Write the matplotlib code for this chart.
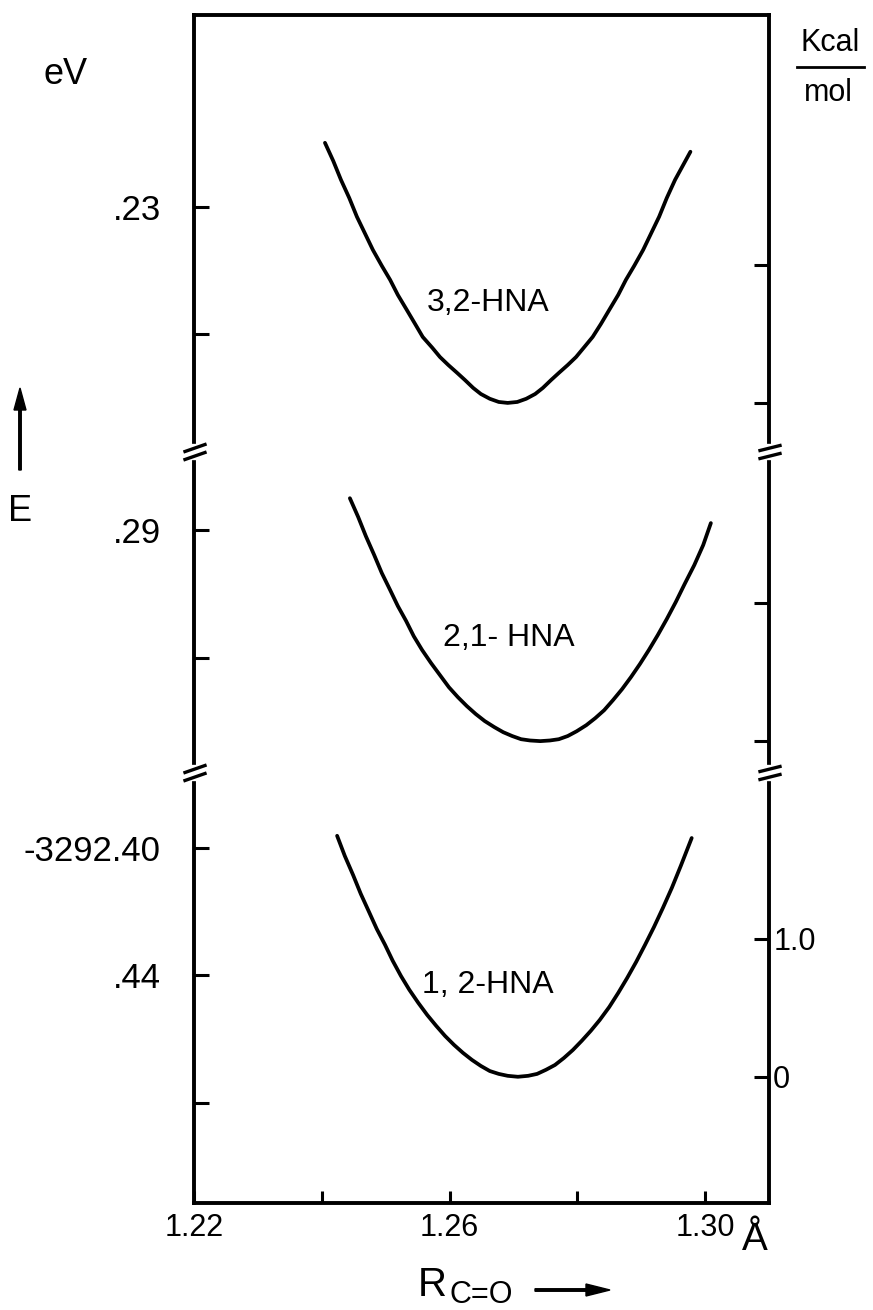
import matplotlib
matplotlib.use('Agg')
import matplotlib.pyplot as plt
from matplotlib.lines import Line2D
from matplotlib.patches import FancyArrow

plt.rcParams['font.family'] = ['Liberation Sans', 'DejaVu Sans']

W, H = 873, 1310
EV_PER_KCAL = 0.043364

# C=O bond length (Angstrom) and total energy (eV)
r_32 = [1.2405, 1.2418, 1.2430, 1.2443, 1.2455, 1.2468, 1.2480, 1.2494, 1.2507, 1.2519,
        1.2533, 1.2546, 1.2558, 1.2573, 1.2585, 1.2598, 1.2612, 1.2624, 1.2637, 1.2649,
        1.2663, 1.2677, 1.2691, 1.2706, 1.2720, 1.2734, 1.2746, 1.2759, 1.2771, 1.2785,
        1.2798, 1.2810, 1.2824, 1.2837, 1.2850, 1.2864, 1.2876, 1.2889, 1.2903, 1.2915,
        1.2928, 1.2940, 1.2953, 1.2977]
e_32 = [-3292.2099, -3292.2156, -3292.2215, -3292.2272, -3292.2331, -3292.2385, -3292.2435,
        -3292.2485, -3292.2529, -3292.2576, -3292.2623, -3292.2667, -3292.2708, -3292.2742,
        -3292.2771, -3292.2796, -3292.2821, -3292.2843, -3292.2868, -3292.2887, -3292.2902,
        -3292.2912, -3292.2915, -3292.2912, -3292.2902, -3292.2887, -3292.2868, -3292.2843,
        -3292.2821, -3292.2796, -3292.2771, -3292.2742, -3292.2708, -3292.2667, -3292.2623,
        -3292.2576, -3292.2529, -3292.2485, -3292.2435, -3292.2385, -3292.2331, -3292.2272,
        -3292.2215, -3292.2127]

r_21 = [1.2444, 1.2457, 1.2469, 1.2482, 1.2494, 1.2507, 1.2519, 1.2532, 1.2544, 1.2557,
        1.2571, 1.2585, 1.2599, 1.2613, 1.2627, 1.2641, 1.2655, 1.2670, 1.2684, 1.2698,
        1.2712, 1.2726, 1.2742, 1.2757, 1.2771, 1.2785, 1.2799, 1.2814, 1.2828, 1.2842,
        1.2856, 1.2870, 1.2884, 1.2898, 1.2912, 1.2926, 1.2940, 1.2954, 1.2968, 1.2983,
        1.2997, 1.3009]
e_21 = [-3292.2800, -3292.2859, -3292.2919, -3292.2978, -3292.3035, -3292.3088, -3292.3138,
        -3292.3185, -3292.3233, -3292.3276, -3292.3317, -3292.3355, -3292.3393, -3292.3424,
        -3292.3452, -3292.3477, -3292.3499, -3292.3518, -3292.3534, -3292.3546, -3292.3556,
        -3292.3560, -3292.3562, -3292.3560, -3292.3556, -3292.3546, -3292.3531, -3292.3512,
        -3292.3490, -3292.3465, -3292.3433, -3292.3399, -3292.3361, -3292.3320, -3292.3276,
        -3292.3229, -3292.3179, -3292.3126, -3292.3069, -3292.3010, -3292.2947, -3292.2878]

r_12 = [1.2424, 1.2436, 1.2449, 1.2461, 1.2474, 1.2486, 1.2499, 1.2511, 1.2524, 1.2537,
        1.2551, 1.2565, 1.2579, 1.2593, 1.2607, 1.2621, 1.2635, 1.2649, 1.2663, 1.2677,
        1.2691, 1.2707, 1.2723, 1.2737, 1.2751, 1.2765, 1.2779, 1.2793, 1.2807, 1.2821,
        1.2835, 1.2850, 1.2864, 1.2878, 1.2892, 1.2906, 1.2920, 1.2934, 1.2948, 1.2962,
        1.2979]
e_12 = [-3292.3962, -3292.4025, -3292.4085, -3292.4144, -3292.4201, -3292.4254, -3292.4304,
        -3292.4354, -3292.4402, -3292.4445, -3292.4486, -3292.4524, -3292.4558, -3292.4590,
        -3292.4618, -3292.4643, -3292.4665, -3292.4684, -3292.4700, -3292.4709, -3292.4715,
        -3292.4718, -3292.4715, -3292.4709, -3292.4696, -3292.4681, -3292.4659, -3292.4634,
        -3292.4605, -3292.4574, -3292.4540, -3292.4499, -3292.4455, -3292.4408, -3292.4358,
        -3292.4304, -3292.4248, -3292.4188, -3292.4125, -3292.4056, -3292.3969]

names = ['3,2-HNA', '2,1- HNA', '1, 2-HNA']

# left (eV) ticks of each panel
ev_ticks = [[-3292.23, -3292.27], [-3292.29, -3292.33], [-3292.40, -3292.44, -3292.48]]
ev_labels = [['.23', ''], ['.29', ''], ['-3292.40', '.44', '']]
# right (kcal/mol, relative to curve minimum) ticks
kc_ticks = [0, 1]
kc_labels = [['', ''], ['', ''], ['0', '1.0']]

x_ticks = [1.22, 1.24, 1.26, 1.28, 1.30]
x_labels = ['1.22', '', '1.26', '', '1.30']

# panel layout in pixels (top, bottom) and energy window of each panel
rows = [(15, 452), (452, 773), (773, 1203)]
ylims = [(-3292.3069, -3292.1698), (-3292.3662, -3292.2655), (-3292.5114, -3292.3765)]
label_pos = [(1.2660, -3292.2600), (1.2692, -3292.3240), (1.2660, -3292.4430)]

curves = [(r_32, e_32), (r_21, e_21), (r_12, e_12)]

fig = plt.figure(figsize=(W / 100, H / 100), dpi=100)
left_px, right_px = 194, 769
lw_sp = 2.8

for i, (t, b) in enumerate(rows):
    ax = fig.add_axes([left_px / W, 1 - b / H, (right_px - left_px) / W, (b - t) / H])
    r, e = curves[i]
    ax.plot(r, e, color='black', lw=2.7, solid_capstyle='round', solid_joinstyle='round')
    ax.set_xlim(1.22, 1.31)
    ax.set_ylim(*ylims[i])
    ax.text(*label_pos[i], names[i], fontsize=23, ha='center', va='center')

    for s in ax.spines.values():
        s.set_linewidth(lw_sp)
    ax.spines['top'].set_visible(i == 0)
    ax.spines['bottom'].set_visible(i == 2)

    ax.set_yticks(ev_ticks[i])
    ax.set_yticklabels(ev_labels[i])
    ax.tick_params(axis='y', direction='in', length=11, width=2.2, pad=24, labelsize=25)
    if i == 2:
        ax.set_xticks(x_ticks)
        ax.set_xticklabels(x_labels)
        ax.tick_params(axis='x', direction='in', length=9, width=2.2, pad=7, labelsize=22)
    else:
        ax.set_xticks([])

    # right axis in kcal/mol, zero at the curve minimum
    zero = min(e)
    tw = ax.twinx()
    lo, hi = ylims[i]
    tw.set_ylim((lo - zero) / EV_PER_KCAL, (hi - zero) / EV_PER_KCAL)
    for s in tw.spines.values():
        s.set_visible(False)
    tw.set_yticks(kc_ticks)
    tw.set_yticklabels(kc_labels[i])
    tw.tick_params(axis='y', direction='in', length=11, width=2.2, pad=3, labelsize=22)


def fline(xs, ys, **kw):
    fig.add_artist(Line2D([x / W for x in xs], [1 - y / H for y in ys], **kw))


# axis break marks
for py in (452, 773):
    for px, rise in ((195, 7), (770, 5)):
        fline([px, px], [py - 4, py + 4], color='white', lw=6)
        for dy in (-4, 4):
            fline([px - 10, px + 10], [py + dy + rise / 2, py + dy - rise / 2],
                  color='black', lw=2.4)

# axis titles
fig.text(66 / W, 1 - 75 / H, 'eV', fontsize=26, ha='center', va='center')
fig.text(20 / W, 1 - 512 / H, 'E', fontsize=26, ha='center', va='center')
fig.add_artist(FancyArrow(20 / W, 1 - 470 / H, 0, 82 / H, width=2.5 / W,
                          head_width=12 / W, head_length=22 / H,
                          length_includes_head=True, color='black',
                          transform=fig.transFigure))
fig.text(830 / W, 1 - 43 / H, 'Kcal', fontsize=22, ha='center', va='center')
fline([797, 864], [67, 67], color='black', lw=2)
fig.text(828 / W, 1 - 93 / H, 'mol', fontsize=22, ha='center', va='center')

fig.text(755 / W, 1 - 1240 / H, 'Å', fontsize=28, ha='center', va='center')
fig.text(432 / W, 1 - 1285 / H, 'R', fontsize=29, ha='center', va='center')
fig.text(450 / W, 1 - 1295 / H, 'C=O', fontsize=22, ha='left', va='center')
fig.add_artist(FancyArrow(535 / W, 1 - 1290 / H, 75 / W, 0, width=2.5 / H,
                          head_width=12 / H, head_length=24 / W,
                          length_includes_head=True, color='black',
                          transform=fig.transFigure))

fig.savefig('out.png', dpi=100)
